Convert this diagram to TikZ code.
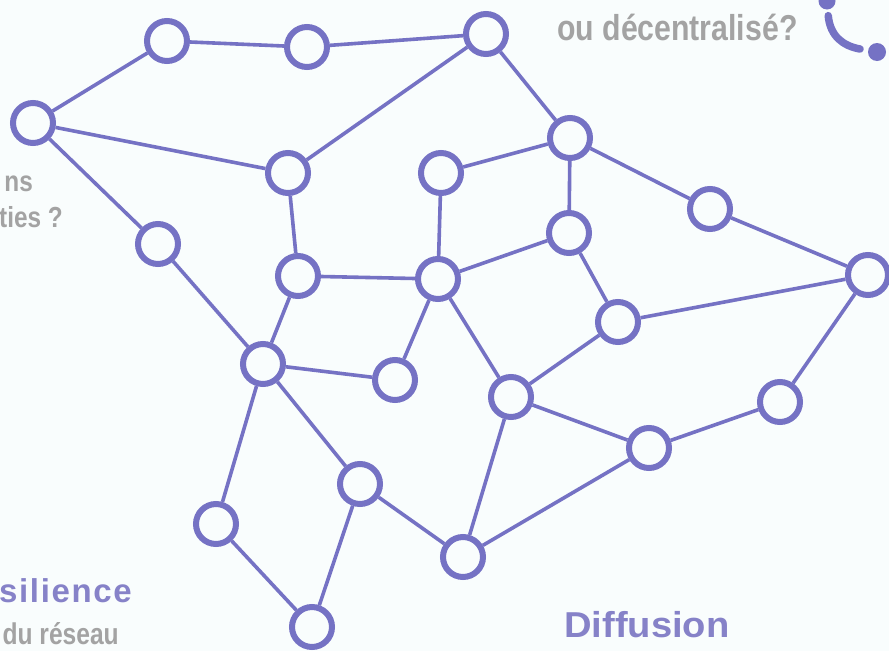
\documentclass[tikz,border=0pt]{standalone}
\usepackage{fontspec}
\setmainfont{Liberation Sans}
\newfontfamily\spacedfont[LetterSpace=5]{Liberation Sans}
\usetikzlibrary{positioning}
\definecolor{netblue}{RGB}{117,114,196}
\definecolor{labelpurple}{RGB}{134,130,200}
\definecolor{labelgray}{RGB}{163,163,163}
\definecolor{paper}{RGB}{249,253,253}

\begin{document}
\begin{tikzpicture}[x=1pt, y=-1pt,
  every node/.style={font=\bfseries},
  hub/.style={circle, draw=netblue, line width=6pt, fill=paper, minimum size=40pt, inner sep=0pt},
  link/.style={draw=netblue, line width=3.6pt},
  tip/.style={circle, fill=netblue, inner sep=0pt},
  question/.style={text=labelgray, inner sep=0pt, font=\bfseries\fontsize{29}{36}\selectfont},
  topic/.style={text=labelpurple, inner sep=0pt}
]
  \fill[paper] (0,0) rectangle (889,651);
  \clip (0,0) rectangle (889,651);

  \node[hub] (a) at (33,123)  {};
  \node[hub] (b) at (167,41)  {};
  \node[hub] (c) at (307,47)  {};
  \node[hub] (d) at (486,34)  {};
  \node[hub] (e) at (288,173) {};
  \node[hub] (f) at (158,244) {};
  \node[hub] (g) at (441,173) {};
  \node[hub] (h) at (570,138) {};
  \node[hub] (i) at (569,233) {};
  \node[hub] (j) at (710,209) {};
  \node[hub] (k) at (868,275) {};
  \node[hub] (l) at (298,276) {};
  \node[hub] (m) at (438,279) {};
  \node[hub] (n) at (618,322) {};
  \node[hub] (o) at (263,364) {};
  \node[hub] (p) at (395,380) {};
  \node[hub] (q) at (511,397) {};
  \node[hub] (r) at (780,402) {};
  \node[hub] (s) at (649,448) {};
  \node[hub] (t) at (360,484) {};
  \node[hub] (u) at (216,524) {};
  \node[hub] (v) at (463,557) {};
  \node[hub] (w) at (312,627) {};

  \draw[link] (a) -- (b) (b) -- (c) (c) -- (d) (a) -- (e) (e) -- (d) (a) -- (f) (f) -- (o);
  \draw[link] (d) -- (h) (g) -- (h) (g) -- (m) (h) -- (i) (h) -- (j) (j) -- (k) (i) -- (m) (i) -- (n);
  \draw[link] (n) -- (k) (k) -- (r) (r) -- (s) (s) -- (q) (q) -- (m) (q) -- (n) (q) -- (v);
  \draw[link] (e) -- (l) (l) -- (m) (l) -- (o) (m) -- (p) (o) -- (p) (o) -- (t) (o) -- (u);
  \draw[link] (u) -- (w) (t) -- (w) (t) -- (v) (v) -- (s);

  \node[tip, minimum size=17pt] (dotup) at (827,1) {};
  \node[tip, minimum size=18pt] (dotdown) at (877,52) {};
  \draw[netblue, line width=7.5pt, line cap=round, shorten <=6pt, shorten >=8pt]
    (dotup) .. controls (830,36) and (843,46) .. (dotdown);

  \node[question, font=\bfseries\fontsize{36}{40}\selectfont, anchor=base west] (decentral) at (557,40)
    {\scalebox{0.84}[1]{ou décentralisé?}};
  \node[question, anchor=base east] (partsA) at (33,191) {\scalebox{0.84}[1]{ns}};
  \node[question, anchor=base east] (partsB) at (63,227) {\scalebox{0.84}[1]{ties ?}};
  \node[question, font=\bfseries\fontsize{30}{36}\selectfont, anchor=base east] (network) at (119,644) {\scalebox{0.82}[1]{du réseau}};
  \node[topic, anchor=base east, font=\spacedfont\bfseries\fontsize{33}{38}\selectfont] (resilience) at (132,602) {silience};
  \node[topic, anchor=base west, font=\bfseries\fontsize{36}{40}\selectfont] (diffusion) at (564,637) {\scalebox{1.06}[1]{Diffusion}};
\end{tikzpicture}
\end{document}
